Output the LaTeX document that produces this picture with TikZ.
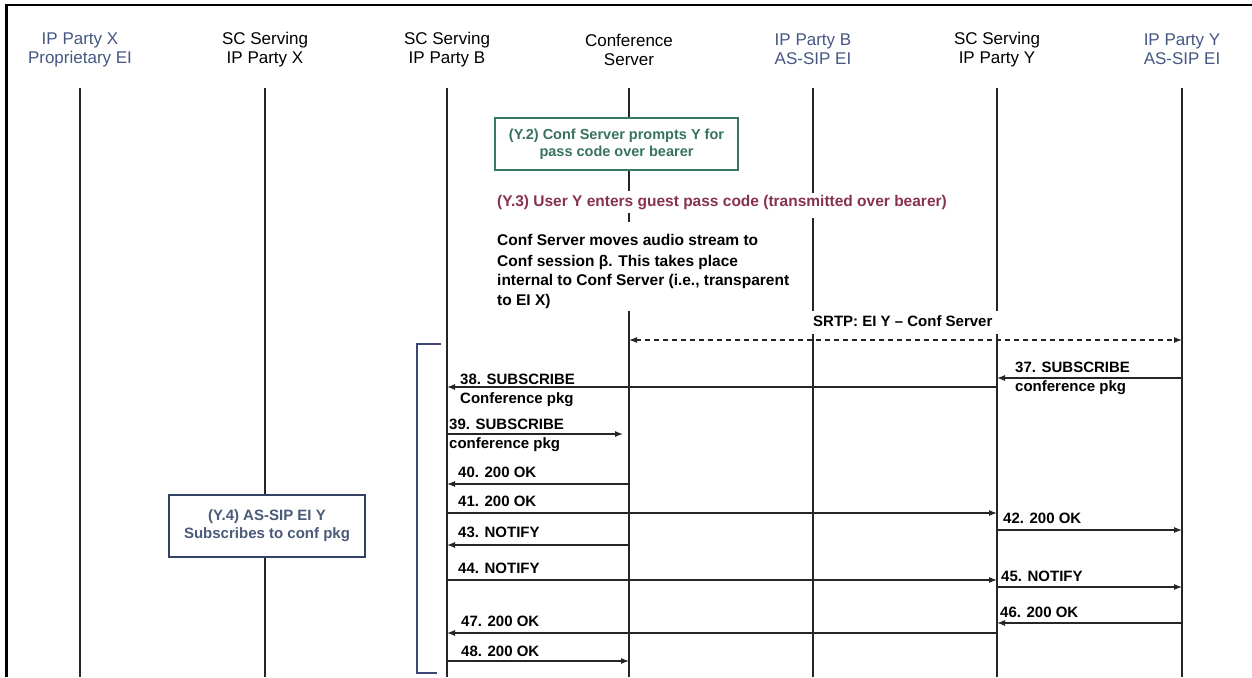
\documentclass[tikz,border=0pt]{standalone}
\usepackage{fontspec}
\setmainfont{Liberation Sans}
\usetikzlibrary{arrows.meta}
\definecolor{hdrblue}{RGB}{70,88,130}
\definecolor{boxgreen}{RGB}{55,120,95}
\definecolor{txtgreen}{RGB}{55,115,95}
\definecolor{maroon}{RGB}{135,50,80}
\definecolor{navybox}{RGB}{50,65,100}
\definecolor{navytxt}{RGB}{75,90,120}
\definecolor{bracketc}{RGB}{60,72,115}
\begin{document}
\begin{tikzpicture}[x=1pt,y=-1pt]
\tikzset{
  life/.style={line width=1.3pt, black!85},
  msg/.style={line width=1.1pt, black!85, -{Latex[length=8pt,width=6pt]}},
  dmsg/.style={line width=1.1pt, black!85, dash pattern=on 5pt off 4pt, {Latex[length=8pt,width=6pt]}-{Latex[length=8pt,width=6pt]}},
  lbl/.style={font=\bfseries\fontsize{15}{19}\selectfont, inner sep=0pt, anchor=west, align=left},
  hdr/.style={font=\fontsize{17}{19}\selectfont, align=center, inner sep=0pt},
}
\useasboundingbox (0,0) rectangle (1252,677);
\fill[white] (0,0) rectangle (1252,677);
% frame
\draw[line width=2.6pt] (1252,5) -- (6.5,5) -- (6.5,677);
% lifeline positions
\coordinate (LX) at (80,0);
\coordinate (SX) at (265,0);
\coordinate (SB) at (447,0);
\coordinate (CS) at (629,0);
\coordinate (IB) at (813,0);
\coordinate (SY) at (997,0);
\coordinate (IY) at (1182,0);
% headers
\node[hdr, text=hdrblue] (hLX) at (LX |- 0,49.5) {IP Party X\\Proprietary EI};
\node[hdr] (hSX) at (SX |- 0,49.5) {SC Serving\\IP Party X};
\node[hdr] (hSB) at (SB |- 0,49.5) {SC Serving\\IP Party B};
\node[hdr] (hCS) at (CS |- 0,49.5) {Conference\\Server};
\node[hdr, text=hdrblue] (hIB) at (IB |- 0,49.5) {IP Party B\\AS-SIP EI};
\node[hdr] (hSY) at (SY |- 0,49.5) {SC Serving\\IP Party Y};
\node[hdr, text=hdrblue] (hIY) at (IY |- 0,49.5) {IP Party Y\\AS-SIP EI};
% lifelines
\draw[life] (LX |- 0,88) -- (LX |- 0,677);
\draw[life] (SX |- 0,88) -- (SX |- 0,677);
\draw[life] (SB |- 0,88) -- (SB |- 0,677);
\draw[life] (CS |- 0,88) -- (CS |- 0,191);
\draw[life] (CS |- 0,213) -- (CS |- 0,222);
\draw[life] (CS |- 0,311) -- (CS |- 0,677);
\draw[life] (IB |- 0,88) -- (IB |- 0,193);
\draw[life] (IB |- 0,218) -- (IB |- 0,311);
\draw[life] (IB |- 0,334) -- (IB |- 0,677);
\draw[life] (SY |- 0,88) -- (SY |- 0,311);
\draw[life] (SY |- 0,334) -- (SY |- 0,677);
\draw[life] (IY |- 0,88) -- (IY |- 0,677);
% boxes
\node[draw=boxgreen, line width=2pt, fill=white, text=txtgreen, font=\bfseries\fontsize{14.5}{17}\selectfont, align=center, minimum width=243pt, minimum height=52pt, inner sep=0pt] (y2) at (616.5,144) {(Y.2) Conf Server prompts Y for\\pass code over bearer};
\node[draw=navybox, line width=1.8pt, fill=white, text=navytxt, font=\bfseries\fontsize{15}{18}\selectfont, align=center, minimum width=196pt, minimum height=62pt, inner sep=0pt] (y4) at (267,526) {(Y.4) AS-SIP EI Y\\Subscribes to conf pkg};
% texts
\node[lbl, text=maroon, font=\bfseries\fontsize{15.5}{19}\selectfont] (y3) at (497,203) {(Y.3) User Y enters guest pass code (transmitted over bearer)};
\node[lbl, font=\bfseries\fontsize{15.5}{19.5}\selectfont] (mv) at (497,271) {Conf Server moves audio stream to\\[1.5pt]Conf session β. This takes place\\internal to Conf Server (i.e., transparent\\to EI X)};
\node[lbl] (srtp) at (813,321) {SRTP: EI Y -- Conf Server};
% bracket
\draw[bracketc, line width=2.4pt] (441,344) -- (417,344) -- (417,673) -- (437,673);
% SRTP
\draw[dmsg] (CS |- 0,340) -- (IY |- 0,340);
% messages
\draw[msg] (IY |- 0,378) -- (SY |- 0,378);
\node[lbl] (l37) at (1015,378.5) {37. SUBSCRIBE\\conference pkg};
\draw[msg] (SY |- 0,387) -- (SB |- 0,387);
\node[lbl] (l38) at (460,390) {38. SUBSCRIBE\\Conference pkg};
\coordinate (e39) at (623,434);
\draw[msg] (SB |- 0,434) -- (e39);
\node[lbl] (l39) at (449,435) {39. SUBSCRIBE\\conference pkg};
\draw[msg] (CS |- 0,484) -- (SB |- 0,484);
\node[lbl] (l40) at (458,472) {40. 200 OK};
\draw[msg] (SB |- 0,513) -- (SY |- 0,513);
\node[lbl] (l41) at (458,501) {41. 200 OK};
\draw[msg] (SY |- 0,530) -- (IY |- 0,530);
\node[lbl] (l42) at (1003,518) {42. 200 OK};
\draw[msg] (CS |- 0,545) -- (SB |- 0,545);
\node[lbl] (l43) at (458,532) {43. NOTIFY};
\draw[msg] (SB |- 0,580) -- (SY |- 0,580);
\node[lbl] (l44) at (458,568) {44. NOTIFY};
\draw[msg] (SY |- 0,587) -- (IY |- 0,587);
\node[lbl] (l45) at (1001,576) {45. NOTIFY};
\draw[msg] (IY |- 0,623) -- (SY |- 0,623);
\node[lbl] (l46) at (1000,612) {46. 200 OK};
\draw[msg] (SY |- 0,633) -- (SB |- 0,633);
\node[lbl] (l47) at (461,621) {47. 200 OK};
\draw[msg] (SB |- 0,661) -- (CS |- 0,661);
\node[lbl] (l48) at (461,651) {48. 200 OK};
\end{tikzpicture}
\end{document}
